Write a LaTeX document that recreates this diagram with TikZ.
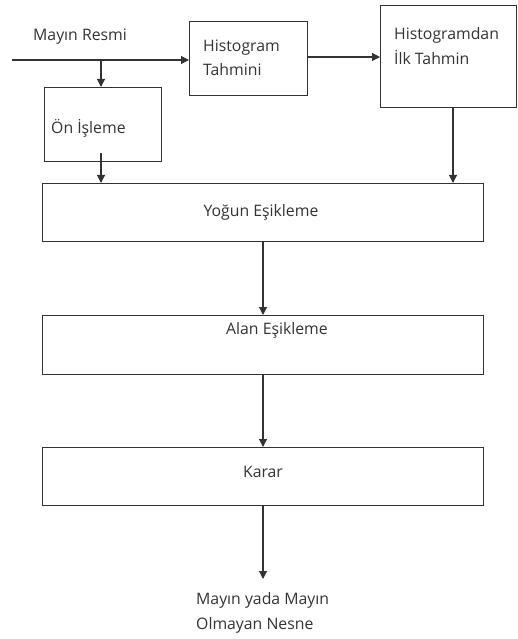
\documentclass[tikz,border=0pt]{standalone}
\usepackage{fontspec}
\setmainfont{Open Sans}
\usetikzlibrary{arrows.meta}
\definecolor{ink}{HTML}{333333}
\begin{document}
\begin{tikzpicture}[x=1pt,y=-1pt,
  box/.style={draw=ink,line width=1.1pt,rectangle,inner sep=0pt,anchor=north west},
  lbl/.style={text=ink,font=\fontsize{15.8}{24.5}\selectfont,inner sep=0pt},
  flow/.style={draw=ink,line width=1.1pt,-{Triangle[width=8pt,length=8pt]}}]
\useasboundingbox (0,0) rectangle (517,639);
% boxes
\node[box,minimum width=118,minimum height=74] (hist) at (189,21) {};
\node[box,minimum width=136,minimum height=102] (first) at (380,5) {};
\node[box,minimum width=117,minimum height=74] (pre) at (44,87) {};
\node[box,minimum width=441,minimum height=58] (dense) at (42,183) {};
\node[box,minimum width=441,minimum height=59] (area) at (42,315) {};
\node[box,minimum width=441,minimum height=58] (dec) at (42,447) {};
% texts
\node[lbl,anchor=west] (tin) at (33,37) {Mayın Resmi};
\node[lbl,anchor=west,align=left] (thist) at (203,58) {Histogram\\Tahmini};
\node[lbl,anchor=west,align=left] (tfirst) at (394,46) {Histogramdan\\İlk Tahmin};
\node[lbl,anchor=west] (tpre) at (51,128) {Ön İşleme};
\node[lbl] (tdense) at (261,212) {Yoğun Eşikleme};
\node[lbl] (tarea) at (277,330) {Alan Eşikleme};
\node[lbl] (tdec) at (263,472) {Karar};
\node[lbl,anchor=west,align=left] (tout) at (196,613) {Mayın yada Mayın\\Olmayan Nesne};
% connector ends
\coordinate (src) at (12,60);
\coordinate (split) at (101,60);
\coordinate (prestart) at (101,153);
\coordinate (outend) at (263,579);
% connectors
\draw[flow] (src) -- (src -| hist.west);
\draw[flow] (split) -- (split |- pre.north);
\draw[flow] (hist.east |- 0,57) -- (first.west |- 0,57);
\draw[flow] (prestart) -- (prestart |- dense.north);
\draw[flow] (first.south -| 453,0) -- (dense.north -| 453,0);
\draw[flow] (dense.south -| 263,0) -- (area.north -| 263,0);
\draw[flow] (area.south -| 263,0) -- (dec.north -| 263,0);
\draw[flow] (dec.south -| outend) -- (outend);
\end{tikzpicture}
\end{document}
